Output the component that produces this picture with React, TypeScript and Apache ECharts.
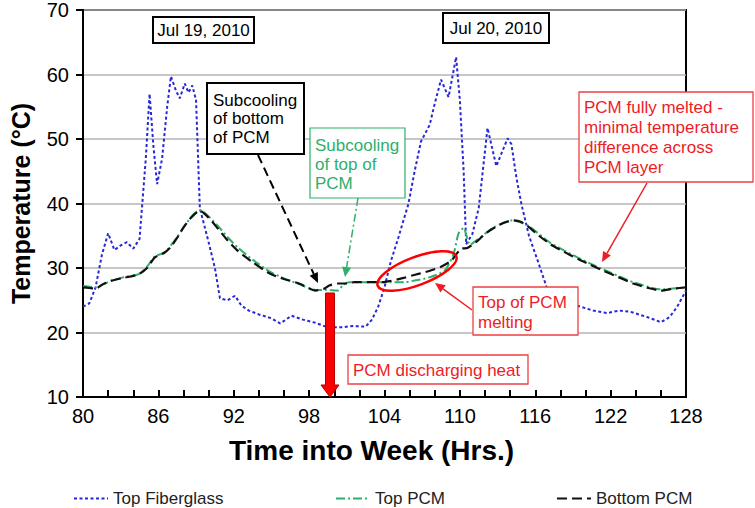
import React, { useEffect, useRef } from "react";
import * as echarts from "echarts";

const fiberHours = [80.0, 80.5, 81.0, 81.5, 82.0, 82.5, 83.0, 83.5, 84.0, 84.5, 85.0, 85.3, 85.6, 85.9, 86.3, 86.7, 87.0, 87.4, 87.7, 88.1, 88.4, 88.7, 89.0, 89.3, 90.0, 90.5, 90.9, 91.5, 92.1, 92.6, 93.2, 94.0, 95.0, 95.7, 96.6, 97.5, 98.5, 99.5, 100.5, 101.5, 102.5, 103.0, 103.5, 104.0, 104.5, 105.1, 105.9, 106.4, 106.9, 107.6, 108.0, 108.5, 109.1, 109.7, 110.0, 110.3, 110.5, 111.0, 111.5, 112.2, 112.9, 113.8, 114.1, 114.5, 114.9, 115.5, 116.2, 117.0, 118.0, 118.8, 120.6, 121.7, 122.7, 123.6, 124.9, 126.0, 126.7, 127.3, 128.0];
const fiberTemps = [24.0, 24.5, 27.0, 32.0, 35.4, 32.8, 33.5, 34.0, 33.0, 34.5, 47.0, 57.0, 49.0, 43.0, 47.0, 55.0, 59.7, 57.5, 56.3, 58.6, 57.2, 58.3, 56.0, 39.3, 34.0, 30.0, 25.3, 25.0, 25.7, 24.2, 23.4, 22.8, 22.2, 21.4, 22.6, 22.0, 21.5, 20.8, 20.8, 21.0, 20.9, 22.0, 24.0, 27.0, 31.0, 34.7, 39.9, 45.0, 49.6, 52.2, 55.5, 59.2, 56.5, 62.7, 56.0, 45.0, 33.7, 35.3, 39.3, 51.7, 45.8, 50.1, 49.2, 44.0, 39.9, 35.0, 31.1, 26.5, 25.2, 24.5, 23.4, 23.0, 23.4, 23.2, 22.4, 21.6, 22.4, 24.0, 26.5];

const topHours = [80, 81.0, 82.2, 83.3, 84.4, 85.1, 85.7, 86.5, 87.5, 88.6, 89.3, 90.0, 90.7, 91.5, 92.3, 93.5, 94.9, 96.0, 97.2, 98.5, 99.3, 100.3, 100.7, 101.2, 103.8, 104.5, 105.6, 106.5, 107.5, 108.8, 109.5, 109.9, 110.3, 110.8, 111.4, 112.7, 114.2, 115.4, 117.2, 119.4, 121.4, 123.8, 126.0, 128.0];
const topTemps = [27.2, 27.0, 28.0, 28.6, 29.0, 30.2, 31.8, 32.4, 34.8, 37.9, 39.0, 38.0, 36.6, 34.8, 33.2, 31.3, 29.4, 28.4, 27.5, 26.6, 26.6, 26.5, 27.4, 27.8, 27.8, 27.8, 27.8, 28.1, 28.5, 29.6, 32.2, 35.4, 36.2, 33.6, 34.4, 36.3, 37.4, 36.6, 33.9, 31.6, 29.8, 27.8, 26.7, 27.0];

const bottomHours = [80, 80.5, 81.0, 81.6, 82.2, 83.3, 84.4, 85.1, 85.7, 86.5, 87.0, 87.5, 88.0, 88.6, 89.3, 90.0, 90.7, 91.5, 92.3, 93.5, 94.9, 96.0, 97.2, 98.5, 99.2, 99.6, 100.3, 101.0, 101.6, 103.8, 104.5, 105.6, 106.5, 107.5, 108.5, 109.3, 110.1, 110.6, 111.4, 112.0, 112.7, 113.5, 114.2, 114.8, 115.4, 116.3, 117.2, 118.3, 119.4, 120.4, 121.4, 122.6, 123.8, 125.0, 126.0, 127.0, 128.0];
const bottomTemps = [27.0, 26.9, 26.8, 27.5, 28.0, 28.5, 29.0, 30.0, 31.6, 32.4, 33.3, 34.7, 36.3, 37.8, 38.9, 37.8, 36.2, 34.3, 32.7, 30.9, 29.1, 28.3, 27.6, 26.5, 26.8, 27.3, 27.6, 27.6, 27.8, 27.8, 28.0, 28.5, 29.0, 29.5, 30.2, 31.1, 33.0, 33.1, 34.2, 35.3, 36.2, 37.0, 37.4, 37.2, 36.5, 35.0, 33.7, 32.5, 31.4, 30.5, 29.6, 28.6, 27.6, 26.9, 26.5, 26.8, 27.0];

const seriesNames = ["Top Fiberglass", "Top PCM", "Bottom PCM"];
const dateLabels = ["Jul 19, 2010", "Jul 20, 2010"];

const FONT = "'Liberation Sans', Arial, sans-serif";
const RED = "#ee1c25";
const GREEN = "#2eaf6a";
const BLUE = "#2727d8";

const zip = (xs: number[], ys: number[]) => xs.map((x, i) => [x, ys[i]]);

function arrow(x1: number, y1: number, x2: number, y2: number, color: string, lineDash: number[] | null, width = 2, headLen = 10, headW = 4.5) {
  const dx = x2 - x1, dy = y2 - y1;
  const L = Math.sqrt(dx * dx + dy * dy);
  const ux = dx / L, uy = dy / L;
  const bx = x2 - ux * headLen, by = y2 - uy * headLen;
  const px = -uy, py = ux;
  return [
    {
      type: "line", z: 50, silent: true,
      shape: { x1, y1, x2: bx, y2: by },
      style: { stroke: color, lineWidth: width, lineDash: lineDash || undefined },
    },
    {
      type: "polygon", z: 51, silent: true,
      shape: { points: [[x2, y2], [bx + px * headW, by + py * headW], [bx - px * headW, by - py * headW]] },
      style: { fill: color },
    },
  ];
}

function box(x: number, y: number, w: number, h: number, stroke: string, lw: number) {
  return { type: "rect", z: 40, silent: true, shape: { x, y, width: w, height: h }, style: { fill: "#fff", stroke, lineWidth: lw } };
}

function label(x: number, y: number, text: string, color: string, lineHeight = 19, align = "left", vAlign = "top") {
  return {
    type: "text", z: 45, silent: true, x, y,
    style: { text, fill: color, font: `17px ${FONT}`, lineHeight, align, verticalAlign: vAlign },
  };
}

export default function App() {
  const ref = useRef<HTMLDivElement>(null);
  useEffect(() => {
    if (!ref.current) return;
    const chart = echarts.init(ref.current, null, { renderer: "svg" });
    const graphic: any[] = [
      box(153, 17, 101, 26, "#000", 2),
      label(203.5, 30.5, dateLabels[0], "#000", 19, "center", "middle"),
      box(443, 13, 106, 30, "#000", 2),
      label(496, 28.5, dateLabels[1], "#000", 19, "center", "middle"),
      box(207, 83, 97, 71, "#000", 2),
      label(213, 91, "Subcooling\nof bottom\nof PCM", "#000", 18.5),
      box(310, 128, 95, 70, GREEN, 1.2),
      label(315, 135.5, "Subcooling\nof top of\nPCM", GREEN, 19),
      box(579, 92, 174, 90, "#f04040", 1.3),
      label(584, 97, "PCM fully melted -\nminimal temperature\ndifference across\nPCM layer", RED, 20),
      box(473, 287, 105, 48, "#f04040", 1.3),
      label(478, 292, "Top of PCM\nmelting", RED, 20),
      box(348, 355, 180, 29, "#f04040", 1.3),
      label(353, 370, "PCM discharging heat", RED, 20, "left", "middle"),
      ...arrow(258, 155, 318, 283, "#000", [9, 5], 2),
      ...arrow(358, 198, 345, 277, GREEN, [8, 3, 2, 3], 1.5),
      ...arrow(647, 183, 602, 262, RED, null, 1.5),
      ...arrow(472, 310, 435, 283, RED, null, 1.5),
      {
        type: "ellipse", z: 30, silent: true, x: 417, y: 271, rotation: 0.36,
        shape: { cx: 0, cy: 0, rx: 42, ry: 14 },
        style: { fill: "none", stroke: "#ff0000", lineWidth: 2.5 },
      },
      {
        type: "polygon", z: 35, silent: true,
        shape: { points: [[325.5, 293], [334.5, 293], [334.5, 385], [339, 385], [330, 397], [321, 385], [325.5, 385]] },
        style: { fill: "#ff0000", stroke: "#b00000", lineWidth: 1 },
      },
    ];

    const legendBase = {
      orient: "horizontal", itemWidth: 34, itemHeight: 10, itemGap: 5,
      textStyle: { fontFamily: FONT, fontSize: 17, color: "#222" },
      itemStyle: { opacity: 0 },
      top: 490, padding: 0,
    };

    chart.setOption({
      animation: false,
      backgroundColor: "#fff",
      grid: { left: 80, right: 69, top: 8, bottom: 111, show: true, borderColor: "#000", borderWidth: 2, backgroundColor: "transparent" },
      legend: [
        { ...legendBase, left: 73, data: [seriesNames[0]] },
        { ...legendBase, left: 335, data: [seriesNames[1]] },
        { ...legendBase, left: 556, data: [seriesNames[2]] },
      ],
      xAxis: {
        type: "value", min: 80, max: 128, interval: 6,
        name: "Time into Week (Hrs.)", nameLocation: "middle", nameGap: 39,
        nameTextStyle: { fontFamily: FONT, fontSize: 28, fontWeight: "bold", color: "#000", padding: [0, 26, 0, 0] },
        axisLine: { lineStyle: { color: "#000", width: 2 } },
        axisTick: { inside: true, length: 7, lineStyle: { color: "#000", width: 2 } },
        minorTick: { show: true, splitNumber: 3, length: 7, lineStyle: { color: "#000", width: 2 } },
        axisLabel: { fontFamily: FONT, fontSize: 20, color: "#000", margin: 9 },
        splitLine: { show: false },
      },
      yAxis: {
        type: "value", min: 10, max: 70, interval: 10,
        name: "Temperature (°C)", nameLocation: "middle", nameGap: 50, nameRotate: 90,
        nameTextStyle: { fontFamily: FONT, fontSize: 25, fontWeight: "bold", color: "#000" },
        axisLine: { show: true, lineStyle: { color: "#000", width: 2 } },
        axisTick: { show: true, inside: false, length: 7, lineStyle: { color: "#000", width: 2 } },
        axisLabel: { fontFamily: FONT, fontSize: 20, color: "#000", margin: 14 },
        splitLine: { show: true, lineStyle: { color: "#b4b4b4", width: 1.5 } },
      },
      series: [
        {
          name: seriesNames[0], type: "line", data: zip(fiberHours, fiberTemps), symbol: "none",
          lineStyle: { color: BLUE, width: 2, type: [3, 2.5] }, itemStyle: { color: BLUE }, z: 3,
        },
        {
          name: seriesNames[1], type: "line", data: zip(topHours, topTemps), symbol: "none", smooth: 0.2,
          lineStyle: { color: GREEN, width: 2, type: [9, 3, 2, 3] }, itemStyle: { color: GREEN }, z: 4,
        },
        {
          name: seriesNames[2], type: "line", data: zip(bottomHours, bottomTemps), symbol: "none", smooth: 0.2,
          lineStyle: { color: "#111", width: 2.2, type: [10, 5] }, itemStyle: { color: "#111" }, z: 5,
        },
      ],
      graphic,
    });
    return () => chart.dispose();
  }, []);
  return <div ref={ref} style={{ width: 755, height: 508, position: "absolute", left: 0, top: 0 }} />;
}
